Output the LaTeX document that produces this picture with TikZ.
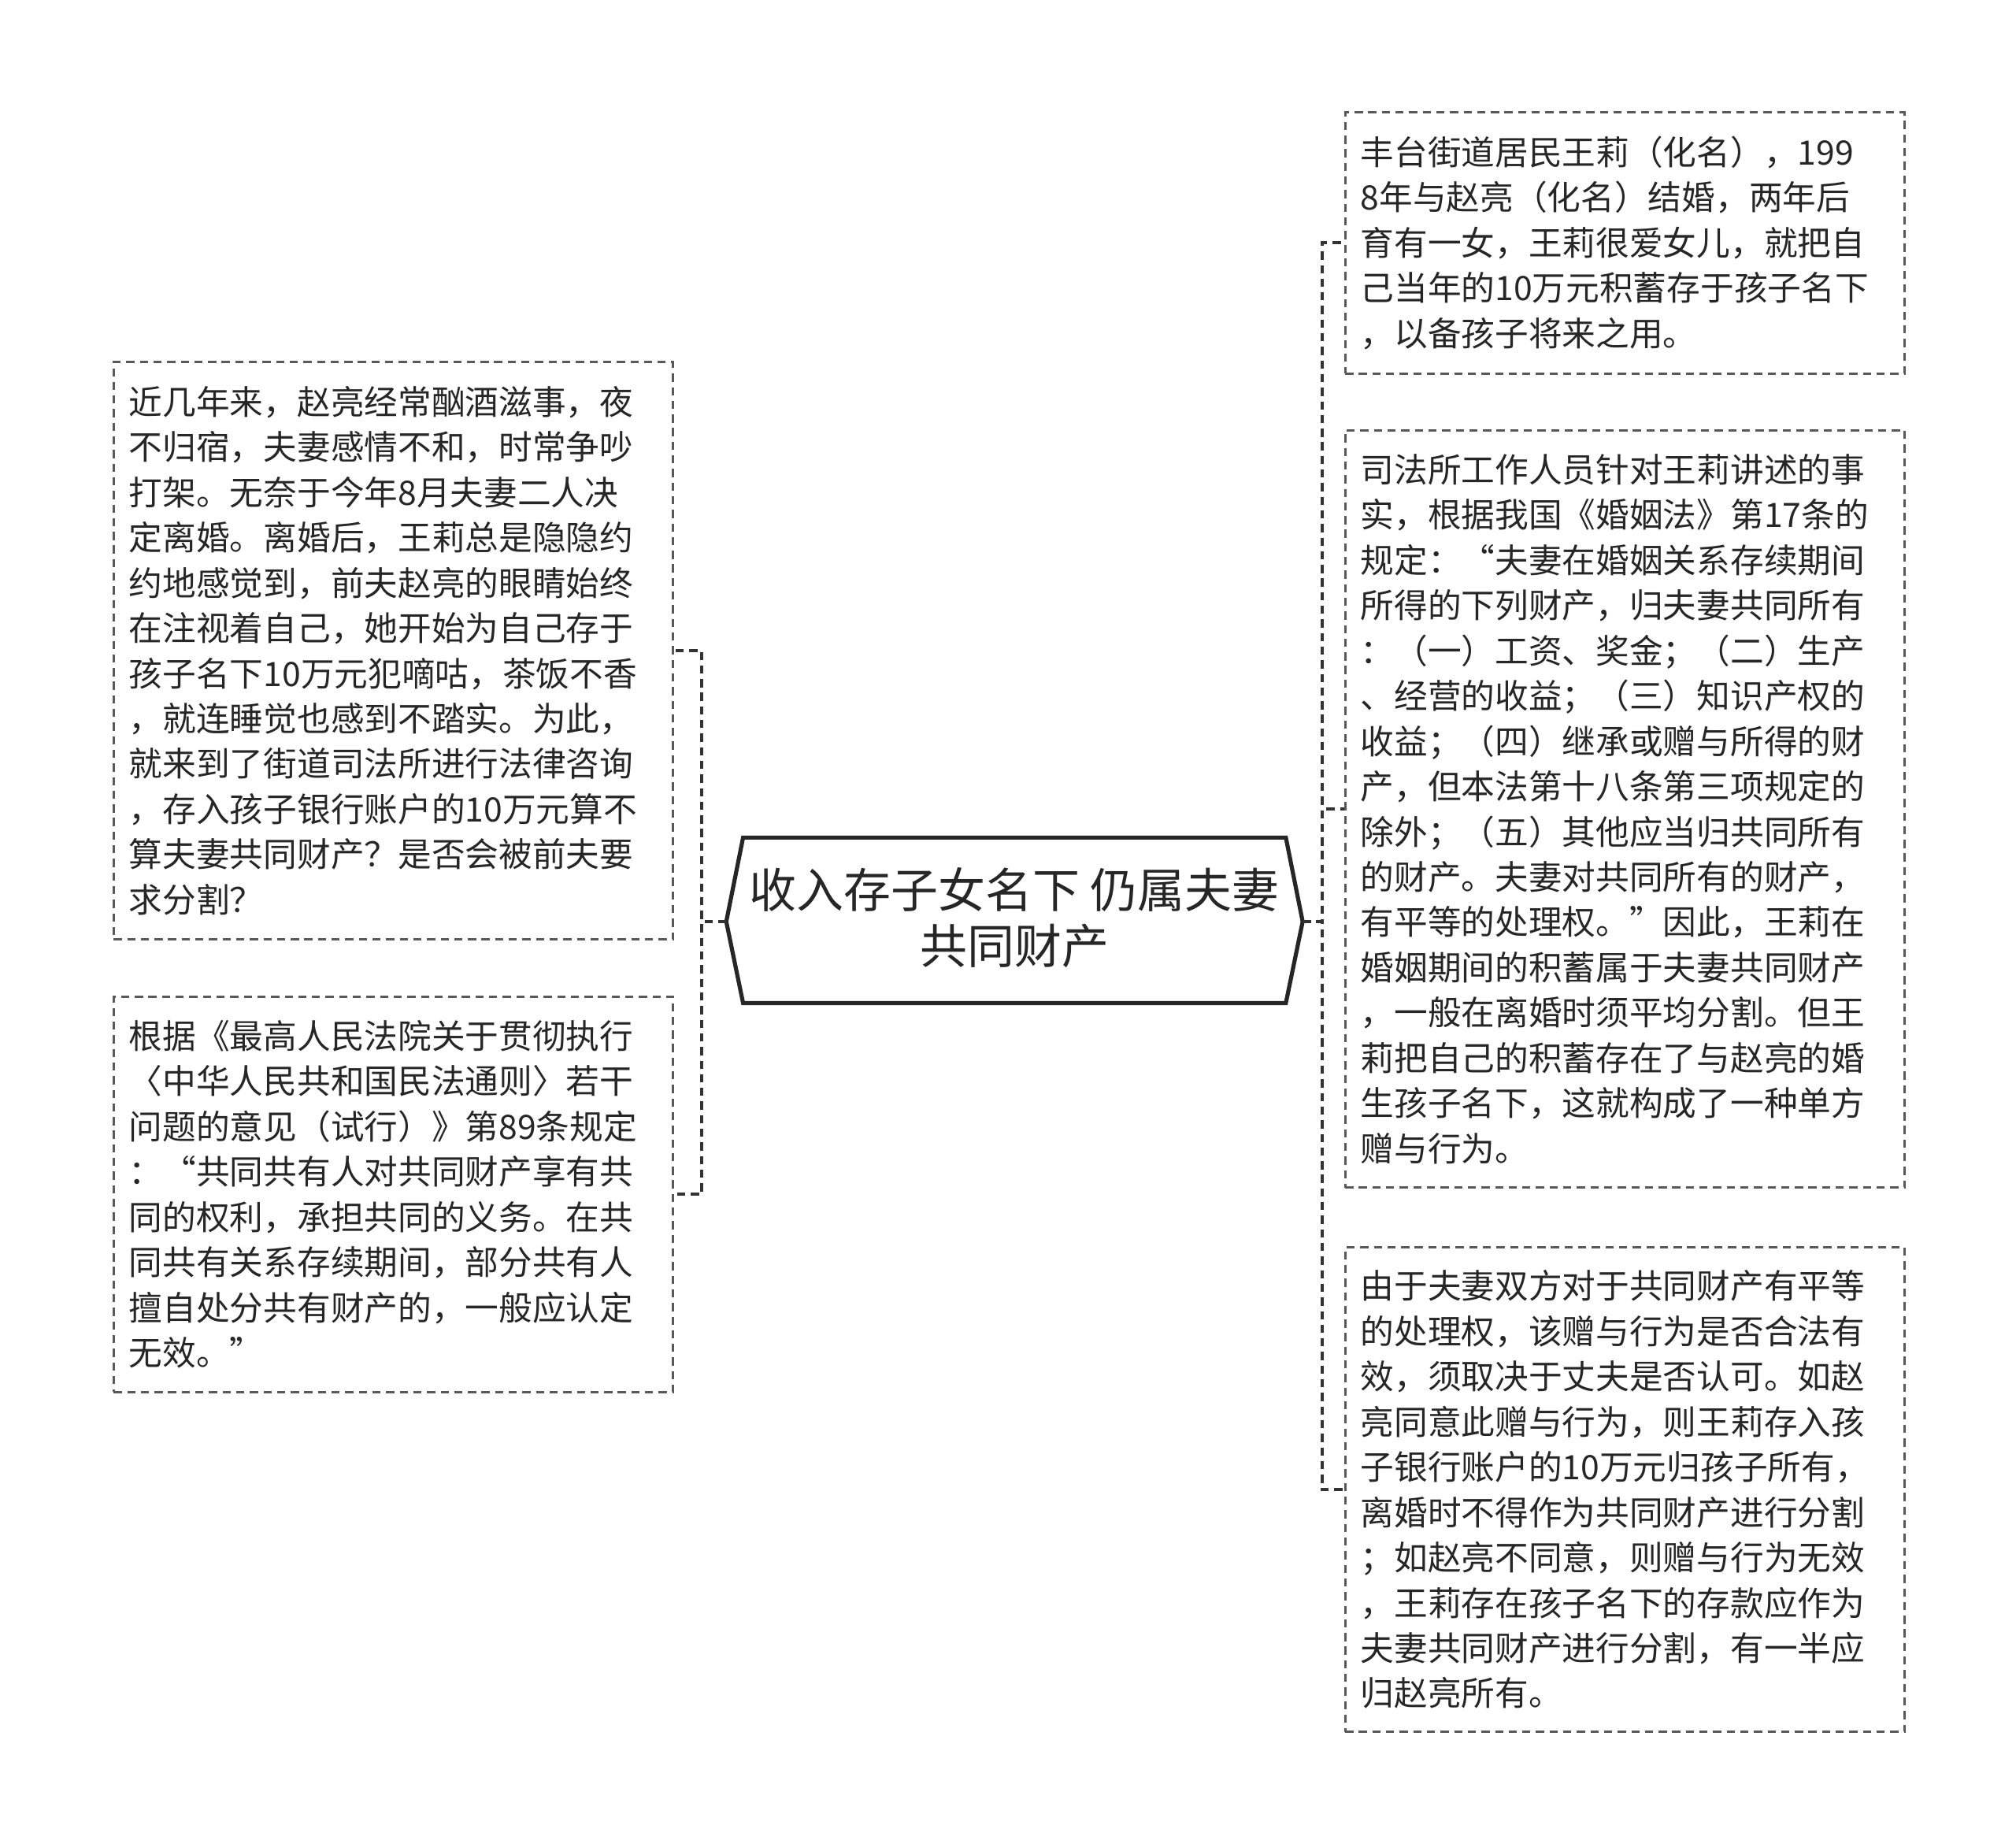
\documentclass[tikz,border=0pt]{standalone}
\usepackage{fontspec}
\setmainfont{Noto Sans CJK SC}
\usetikzlibrary{positioning}
\tikzset{
  leaf/.style={draw=gray!70!black, dash pattern=on 9pt off 6pt, line width=2.6pt, anchor=north west, align=left,
    text width=20.45cm, inner xsep=0.6cm, inner ysep=0.45cm, font=\fontsize{37}{49.8}\selectfont, text=black!85},
  link/.style={draw=black!80, dash pattern=on 9pt off 6pt, line width=3.6pt}
}
\begin{document}
\begin{tikzpicture}[x=0.05cm, y=-0.05cm]
  \useasboundingbox (0,0) rectangle (1560,1423);
  % central topic
  \node[font=\fontsize{52}{62}\selectfont, align=center, text=black!85] (root) at (785,710) {收入存子女名下 仍属夫妻\\共同财产};
  \draw[line width=4.5pt, black!85] (562,713) -- (575,648) -- (995,648) -- (1008,713) -- (995,776) -- (575,776) -- cycle;
  \coordinate (rl) at (562,713); \coordinate (rr) at (1008,713);

  % left branches
  \node[leaf, minimum height=22.35cm] (L1) at (87,279) {近几年来，赵亮经常酗酒滋事，夜\\不归宿，夫妻感情不和，时常争吵\\打架。无奈于今年8月夫妻二人决\\定离婚。离婚后，王莉总是隐隐约\\约地感觉到，前夫赵亮的眼睛始终\\在注视着自己，她开始为自己存于\\孩子名下10万元犯嘀咕，茶饭不香\\，就连睡觉也感到不踏实。为此，\\就来到了街道司法所进行法律咨询\\，存入孩子银行账户的10万元算不\\算夫妻共同财产？是否会被前夫要\\求分割？};
  \node[leaf, minimum height=15.3cm] (L2) at (87,770) {根据《最高人民法院关于贯彻执行\\〈中华人民共和国民法通则〉若干\\问题的意见（试行）》第89条规定\\：“共同共有人对共同财产享有共\\同的权利，承担共同的义务。在共\\同共有关系存续期间，部分共有人\\擅自处分共有财产的，一般应认定\\无效。”};

  % right branches
  \node[leaf, minimum height=10.1cm] (R1) at (1040,86) {丰台街道居民王莉（化名），199\\8年与赵亮（化名）结婚，两年后\\育有一女，王莉很爱女儿，就把自\\己当年的10万元积蓄存于孩子名下\\，以备孩子将来之用。};
  \node[leaf, minimum height=29.3cm] (R2) at (1040,332) {司法所工作人员针对王莉讲述的事\\实，根据我国《婚姻法》第17条的\\规定：“夫妻在婚姻关系存续期间\\所得的下列财产，归夫妻共同所有\\：（一）工资、奖金；（二）生产\\、经营的收益；（三）知识产权的\\收益；（四）继承或赠与所得的财\\产，但本法第十八条第三项规定的\\除外；（五）其他应当归共同所有\\的财产。夫妻对共同所有的财产，\\有平等的处理权。”因此，王莉在\\婚姻期间的积蓄属于夫妻共同财产\\，一般在离婚时须平均分割。但王\\莉把自己的积蓄存在了与赵亮的婚\\生孩子名下，这就构成了一种单方\\赠与行为。};
  \node[leaf, minimum height=18.75cm] (R3) at (1040,964) {由于夫妻双方对于共同财产有平等\\的处理权，该赠与行为是否合法有\\效，须取决于丈夫是否认可。如赵\\亮同意此赠与行为，则王莉存入孩\\子银行账户的10万元归孩子所有，\\离婚时不得作为共同财产进行分割\\；如赵亮不同意，则赠与行为无效\\，王莉存在孩子名下的存款应作为\\夫妻共同财产进行分割，有一半应\\归赵亮所有。};

  % connectors
  \draw[link] (rl) -- ++(-19,0) |- (L1.east);
  \draw[link] (rl) -- ++(-19,0) |- (L2.east);
  \draw[link] (rr) -- ++(15,0) |- (R1.west);
  \draw[link] (rr) -- ++(15,0) |- (R2.west);
  \draw[link] (rr) -- ++(15,0) |- (R3.west);
\end{tikzpicture}
\end{document}
